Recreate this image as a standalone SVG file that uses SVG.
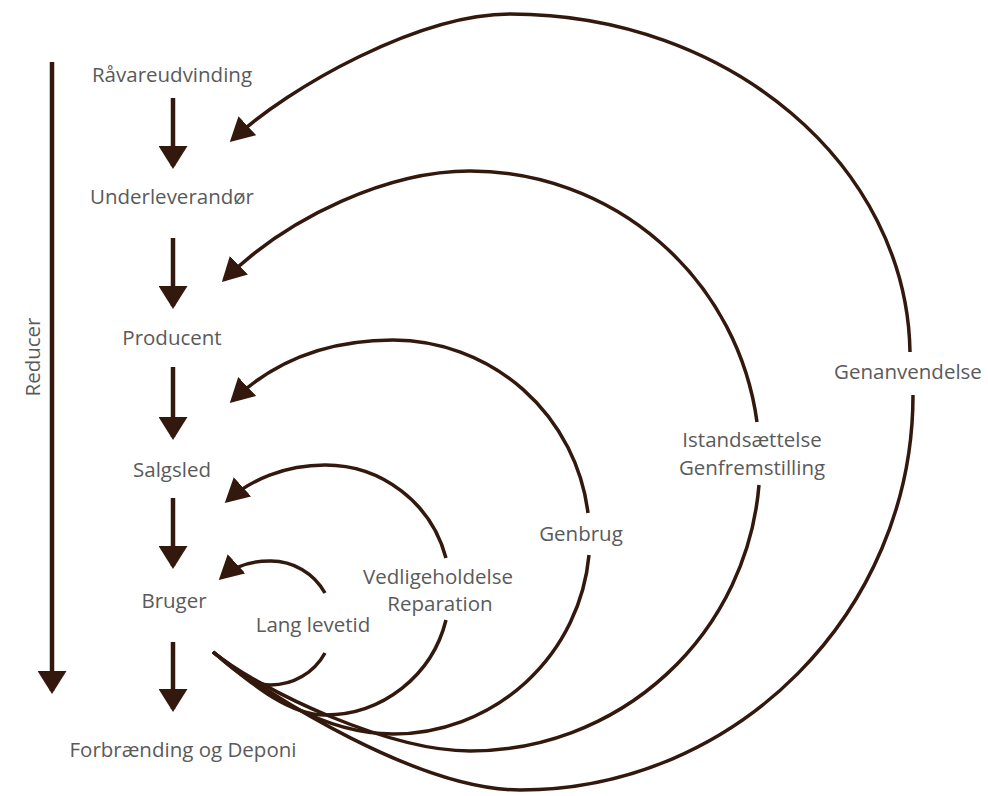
<svg xmlns="http://www.w3.org/2000/svg" width="988" height="796" viewBox="0 0 988 796">
<style>
text{font-family:"Open Sans","Noto Sans","Liberation Sans",sans-serif;font-size:20.5px;fill:#5a5a5a;text-anchor:middle}
.c{fill:none;stroke:#33190d;stroke-width:3.5}
.d{fill:none;stroke:#33190d;stroke-width:4.5}
</style>
<defs>
<marker id="ah" viewBox="0 0 24 26" refX="21" refY="13" markerWidth="24" markerHeight="26" markerUnits="userSpaceOnUse" orient="auto">
<path d="M0,0 L24,13 L0,26 z" fill="#33190d"/>
</marker>
<marker id="ad" viewBox="0 0 23 29" refX="20" refY="14.5" markerWidth="23" markerHeight="29" markerUnits="userSpaceOnUse" orient="auto">
<path d="M0,0 L23,14.5 L0,29 z" fill="#33190d"/>
</marker>
</defs>
<rect width="988" height="796" fill="#ffffff"/>
<g id="connectors">
<line class="d" x1="52" y1="62" x2="52" y2="691" marker-end="url(#ad)"/>
<line class="d" x1="173" y1="98" x2="173" y2="166" marker-end="url(#ad)"/>
<line class="d" x1="173" y1="238" x2="173" y2="306" marker-end="url(#ad)"/>
<line class="d" x1="173" y1="367" x2="173" y2="437" marker-end="url(#ad)"/>
<line class="d" x1="173" y1="498" x2="173" y2="566" marker-end="url(#ad)"/>
<line class="d" x1="173" y1="642" x2="173" y2="709" marker-end="url(#ad)"/>
<path class="c" d="M910,352 C907,166 730,14 510,14 C420,14 290,86 232,140" marker-end="url(#ah)"/>
<path class="c" d="M913,395 C913,612 736,790 520,790 C420,790 270,697 213,652"/>
<path class="c" d="M757,422 A290,290 0 0 0 470,171 C390,171 290,215 224,280" marker-end="url(#ah)"/>
<path class="c" d="M759,485 A290,290 0 0 1 470,751 C390,751 263,692 213,652"/>
<path class="c" d="M588,513 A197,197 0 0 0 393,340 C330,340 275,360 232,401" marker-end="url(#ah)"/>
<path class="c" d="M589,555 A197,197 0 0 1 393,734 C320,734 258,688 213,652"/>
<path class="c" d="M446,558 A125,125 0 0 0 325,465 C285,465 250,480 227,501" marker-end="url(#ah)"/>
<path class="c" d="M446,620 A125,125 0 0 1 325,715 C285,715 243,676 213,652"/>
<path class="c" d="M325,593 A62,62 0 0 0 270,561 C250,561 233,567 221,578" marker-end="url(#ah)"/>
<path class="c" d="M325,653 A62,62 0 0 1 270,685 C250,685 233,668 213,652"/>
</g>
<g id="reducer"><text transform="translate(40,357) rotate(-90)">Reducer</text></g>
<g id="raavareudvinding"><text x="172" y="82">Råvareudvinding</text></g>
<g id="underleverandoer"><text x="172" y="204">Underleverandør</text></g>
<g id="producent"><text x="172" y="345">Producent</text></g>
<g id="salgsled"><text x="172" y="477">Salgsled</text></g>
<g id="bruger"><text x="174" y="608">Bruger</text></g>
<g id="forbraending"><text x="183" y="757">Forbrænding og Deponi</text></g>
<g id="lang-levetid"><text x="313" y="632">Lang levetid</text></g>
<g id="vedligeholdelse"><text x="438" y="584">Vedligeholdelse</text><text x="440" y="611">Reparation</text></g>
<g id="genbrug"><text x="581" y="541">Genbrug</text></g>
<g id="istandsaettelse"><text x="752" y="447">Istandsættelse</text><text x="752" y="475">Genfremstilling</text></g>
<g id="genanvendelse"><text x="908" y="379">Genanvendelse</text></g>
</svg>
